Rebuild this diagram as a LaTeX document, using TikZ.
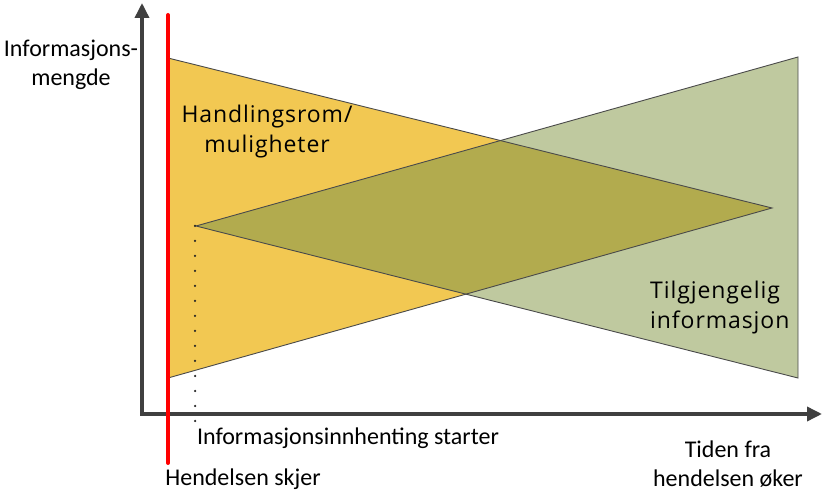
\documentclass[tikz,border=0pt]{standalone}
\usepackage{fontspec}
\setmainfont{Carlito}
\newfontfamily\labelfont[LetterSpace=4]{Open Sans}
\usetikzlibrary{arrows.meta}
\definecolor{axisgray}{HTML}{404040}
\definecolor{tyellow}{HTML}{F2C852}
\definecolor{tgreen}{HTML}{BFC99F}
\definecolor{tolive}{HTML}{B2AB4E}
\definecolor{edgegray}{HTML}{4A4A4A}
\begin{document}
\begin{tikzpicture}[x=1pt,y=-1pt,
  axis/.style={draw=axisgray,line width=3.5pt,{Triangle[length=15pt,width=14pt]}-{Triangle[length=15pt,width=14pt]}},
  tri/.style={draw=edgegray,line width=0.9pt,line join=miter},
  txt/.style={font=\fontsize{24}{29}\selectfont,align=center,inner sep=0pt,text=black},
  big/.style={font=\labelfont\fontsize{23}{30}\selectfont,inner sep=0pt,text=black}]
\useasboundingbox (0,0) rectangle (823,494);
% triangle vertices
\coordinate (A) at (168,58);
\coordinate (B) at (168,378);
\coordinate (C) at (772,208);
\coordinate (D) at (196,226);
\coordinate (E) at (798,57);
\coordinate (F) at (798,378);
% fills
\fill[tyellow] (A) -- (B) -- (C) -- cycle;
\fill[tgreen] (D) -- (E) -- (F) -- cycle;
\begin{scope}
  \clip (A) -- (B) -- (C) -- cycle;
  \fill[tolive] (D) -- (E) -- (F) -- cycle;
\end{scope}
\draw[tri] (A) -- (B) -- (C) -- cycle;
\draw[tri] (D) -- (E) -- (F) -- cycle;
% dotted line
\coordinate (dotstart) at (195,226);
\coordinate (dotend) at (195,421);
\draw[black!85,line width=2.5pt,line cap=round,dash pattern=on 0pt off 15pt] (dotstart) -- (dotend);
% axes
\coordinate (ytop) at (142,3);
\coordinate (orig) at (142,414);
\coordinate (xend) at (822,414);
\draw[axis] (ytop) -- (orig) -- (xend);
% red line
\coordinate (rtop) at (168,15);
\coordinate (rbot) at (168,463);
\draw[red,line width=4pt,line cap=round] (rtop) -- (rbot);
% labels
\node[txt] (ylab) at (71,65) {Informasjons-\\mengde};
\node[big,align=center] (hand) at (267,132) {Handlingsrom/\\muligheter};
\node[big,align=left,anchor=west] (tilg) at (650,308) {Tilgjengelig\\informasjon};
\node[txt] (innh) at (348,438) {Informasjonsinnhenting starter};
\node[txt] (hend) at (243,479) {Hendelsen skjer};
\node[txt] (tid) at (728,464) {Tiden fra\\hendelsen øker};
\end{tikzpicture}
\end{document}
